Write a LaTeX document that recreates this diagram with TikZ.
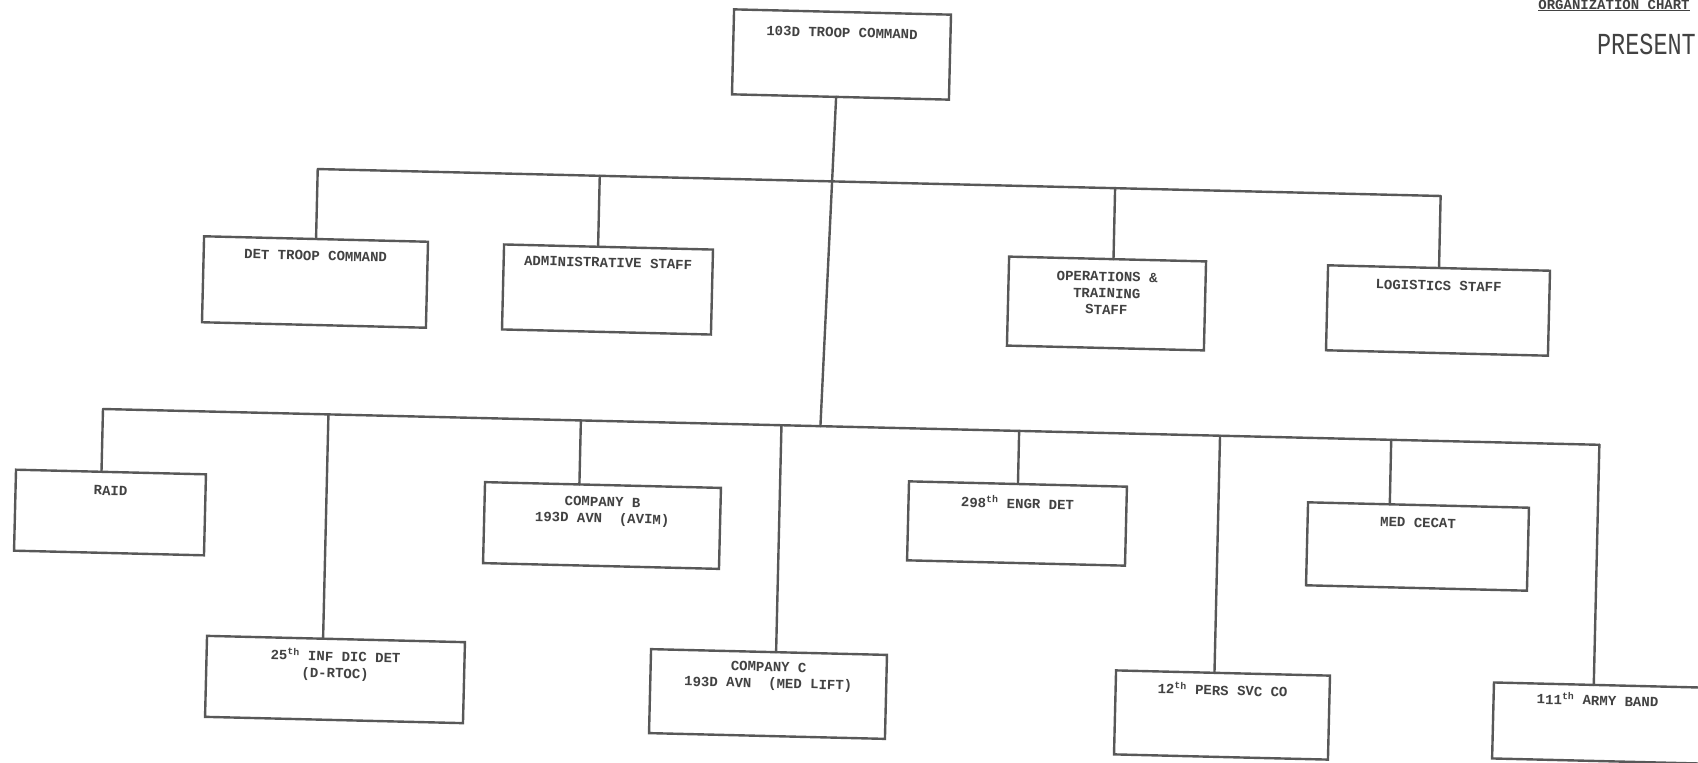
\documentclass[tikz,border=0pt]{standalone}
\usepackage{fontspec}
\newfontfamily\tw{Liberation Mono}
\usetikzlibrary{calc}
\definecolor{ink}{RGB}{88,88,88}
\definecolor{txt}{RGB}{66,66,66}
\tikzset{
  conn/.style={draw=ink, line width=2.4pt, line cap=round},
  ob/.style={draw=ink, line width=2.4pt, rotate=-1.4, inner sep=0pt, outer sep=0pt, anchor=center},
  hd/.style={inner sep=0pt, text=txt},
}
% width, height, top gap, text
\newcommand\bt[4]{\parbox[c][#2pt][t]{#1pt}{\centering\vspace*{#3pt}\tw\bfseries\fontsize{14}{16.5}\selectfont\color{txt}#4\par}}
\newcommand\dropto[3]{%
  \coordinate (#1-t) at ($(#1.north west)!#2!(#1.north east)$);
  \coordinate (#1-b) at ($(#3a)!(#1-t)!(#3b)$);
  \draw[conn] (#1-t) -- (#1-b);}
\begin{document}
\begin{tikzpicture}[x=1pt,y=-1pt]
\useasboundingbox (0,0) rectangle (1698,763);
\fill[white] (0,0) rectangle (1698,763);
\clip (0,0) rectangle (1698,763);

% header
\node[hd, anchor=base] (org) at (1614,9) {\tw\bfseries\fontsize{14}{16}\selectfont\underline{ORGANIZATION CHART}};
\node[hd, anchor=east] (pres) at (1696,44) {\scalebox{1}[1.3]{\tw\fontsize{23.5}{26}\selectfont PRESENT}};

% boxes
\node[ob] (top)   at (841.5,54.5) {\bt{217}{85}{16}{103D TROOP COMMAND}};
\node[ob] (det)   at (315,282)    {\bt{224}{86}{12}{DET TROOP COMMAND}};
\node[ob] (admin) at (607.5,289.5){\bt{209}{85}{11}{ADMINISTRATIVE STAFF}};
\node[ob] (ops)   at (1106.5,303.5){\bt{197}{89}{13}{OPERATIONS \&\\TRAINING\\STAFF}};
\node[ob] (log)   at (1438,310.5) {\bt{222}{85}{13}{LOGISTICS STAFF}};

\node[ob] (raid)  at (110,512.5)  {\bt{190}{81}{14}{RAID}};
\node[ob] (cob)   at (602,525.5)  {\bt{236}{81}{12}{COMPANY B\\193D AVN~ (AVIM)}};
\node[ob] (engr)  at (1017,523.5) {\bt{218}{79}{12}{298\textsuperscript{th} ENGR DET}};
\node[ob] (med)   at (1417.5,546.5){\bt{221}{83}{13}{MED CECAT}};
\node[ob] (inf)   at (335,679.5)  {\bt{258}{81}{10}{25\textsuperscript{th} INF DIC DET\\(D-RTOC)}};
\node[ob] (coc)   at (768,694)    {\bt{236}{84}{10}{COMPANY C\\193D AVN~ (MED LIFT)}};
\node[ob] (pers)  at (1222,715)   {\bt{214}{84}{10}{12\textsuperscript{th} PERS SVC CO}};
\node[ob] (band)  at (1597,723)   {\bt{208}{76}{8}{111\textsuperscript{th} ARMY BAND}};

% buses
\coordinate (L1a) at (316,169);
\coordinate (L1b) at (1440,196);
\coordinate (L2a) at (103,409);
\coordinate (L2b) at (1607,445);

\dropto{det}{0.5}{L1}
\dropto{admin}{0.45}{L1}
\dropto{ops}{0.53}{L1}
\dropto{log}{0.5}{L1}
\draw[conn] (det-b) -- (log-b);

\dropto{raid}{0.45}{L2}
\dropto{inf}{0.45}{L2}
\dropto{cob}{0.40}{L2}
\dropto{coc}{0.53}{L2}
\dropto{engr}{0.5}{L2}
\dropto{pers}{0.46}{L2}
\dropto{med}{0.37}{L2}
\dropto{band}{0.48}{L2}
\draw[conn] (raid-b) -- (band-b);

% trunk
\coordinate (top-s) at ($(top.south west)!0.48!(top.south east)$);
\coordinate (trunk) at ($(L2a)!0.477!(L2b)$);
\draw[conn] (top-s) -- (trunk);
\end{tikzpicture}
\end{document}
